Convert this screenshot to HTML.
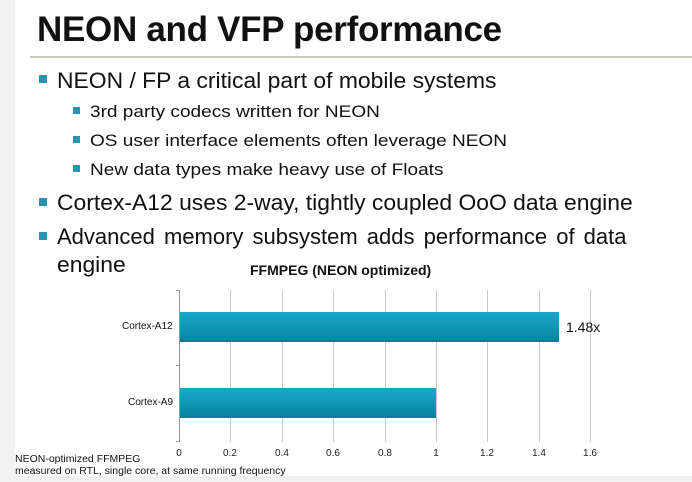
<!DOCTYPE html>
<html><head><meta charset="utf-8"><style>
body{margin:0;width:692px;height:482px;background:#fff;position:relative;overflow:hidden;font-family:"Liberation Sans",Arial,sans-serif;color:#111}
.a{position:absolute;white-space:nowrap}
.m{font-size:22px;line-height:22px;transform:scaleX(1.04);transform-origin:0 0}
.s{font-size:17px;line-height:17px;transform:scaleX(1.12);transform-origin:0 0}
.b{position:absolute;background:#2a93b0}
.g{position:absolute;top:290px;height:152px;width:1px;background:#c8c8c8}
.t{position:absolute;top:448px;font-size:10px;width:30px;text-align:center;margin-left:-15px;color:#222}
</style></head><body>
<div class="a" style="left:0;top:0;width:15px;height:482px;background:#f2f2f2"></div>
<div class="a" style="left:37px;top:10px;font-size:35px;font-weight:bold;line-height:40px;letter-spacing:-0.3px">NEON and VFP performance</div>
<div class="a" style="left:30px;top:56px;width:662px;height:2px;background:#c9c9c2"></div>

<div class="b" style="left:39px;top:75px;width:8px;height:8px"></div>
<div class="a m" style="left:57px;top:70px">NEON / FP a critical part of mobile systems</div>
<div class="b" style="left:73px;top:107px;width:7px;height:7px"></div>
<div class="a s" style="left:90px;top:103px">3rd party codecs written for NEON</div>
<div class="b" style="left:73px;top:136px;width:7px;height:7px"></div>
<div class="a s" style="left:90px;top:132px">OS user interface elements often leverage NEON</div>
<div class="b" style="left:73px;top:165px;width:7px;height:7px"></div>
<div class="a s" style="left:90px;top:161px">New data types make heavy use of Floats</div>
<div class="b" style="left:39px;top:198px;width:8px;height:8px"></div>
<div class="a m" style="left:57px;top:192px">Cortex-A12 uses 2-way, tightly coupled OoO data engine</div>
<div class="b" style="left:39px;top:232px;width:8px;height:8px"></div>
<div class="a m" style="left:57px;top:226px;word-spacing:3px;transform:none">Advanced memory subsystem adds performance of data</div>
<div class="a m" style="left:57px;top:254px">engine</div>
<div class="a" style="left:250px;top:262px;font-size:14px;font-weight:bold">FFMPEG (NEON optimized)</div>

<div class="g" style="left:179px;background:#999"></div>
<div class="g" style="left:230px"></div><div class="g" style="left:282px"></div>
<div class="g" style="left:333px"></div><div class="g" style="left:385px"></div>
<div class="g" style="left:436px"></div><div class="g" style="left:487px"></div>
<div class="g" style="left:539px"></div><div class="g" style="left:590px"></div>
<div class="a" style="left:176px;top:290px;width:3px;height:1px;background:#999"></div>
<div class="a" style="left:176px;top:365px;width:3px;height:1px;background:#999"></div>
<div class="a" style="left:176px;top:441px;width:3px;height:1px;background:#999"></div>

<div class="a" style="left:180px;top:312px;width:379px;height:30px;background:linear-gradient(#1aa8c8,#0e93b4 60%,#0a7e9c)"></div>
<div class="a" style="left:180px;top:388px;width:256px;height:30px;background:linear-gradient(#1aa8c8,#0e93b4 60%,#0a7e9c)"></div>
<div class="a" style="left:566px;top:319px;font-size:14px">1.48x</div>
<div class="a" style="left:122px;top:321px;font-size:10px">Cortex-A12</div>
<div class="a" style="left:128px;top:397px;font-size:10px">Cortex-A9</div>

<div class="t" style="left:179px">0</div><div class="t" style="left:230px">0.2</div>
<div class="t" style="left:282px">0.4</div><div class="t" style="left:333px">0.6</div>
<div class="t" style="left:385px">0.8</div><div class="t" style="left:436px">1</div>
<div class="t" style="left:487px">1.2</div><div class="t" style="left:539px">1.4</div>
<div class="t" style="left:590px">1.6</div>

<div class="a" style="left:15px;top:454px;font-size:10px;line-height:12px;transform:scaleX(1.05);transform-origin:0 0">NEON-optimized FFMPEG<br>measured on RTL, single core, at same running frequency</div>
<div class="a" style="left:15px;top:476px;width:677px;height:6px;background:#f2f2f2"></div>
</body></html>
